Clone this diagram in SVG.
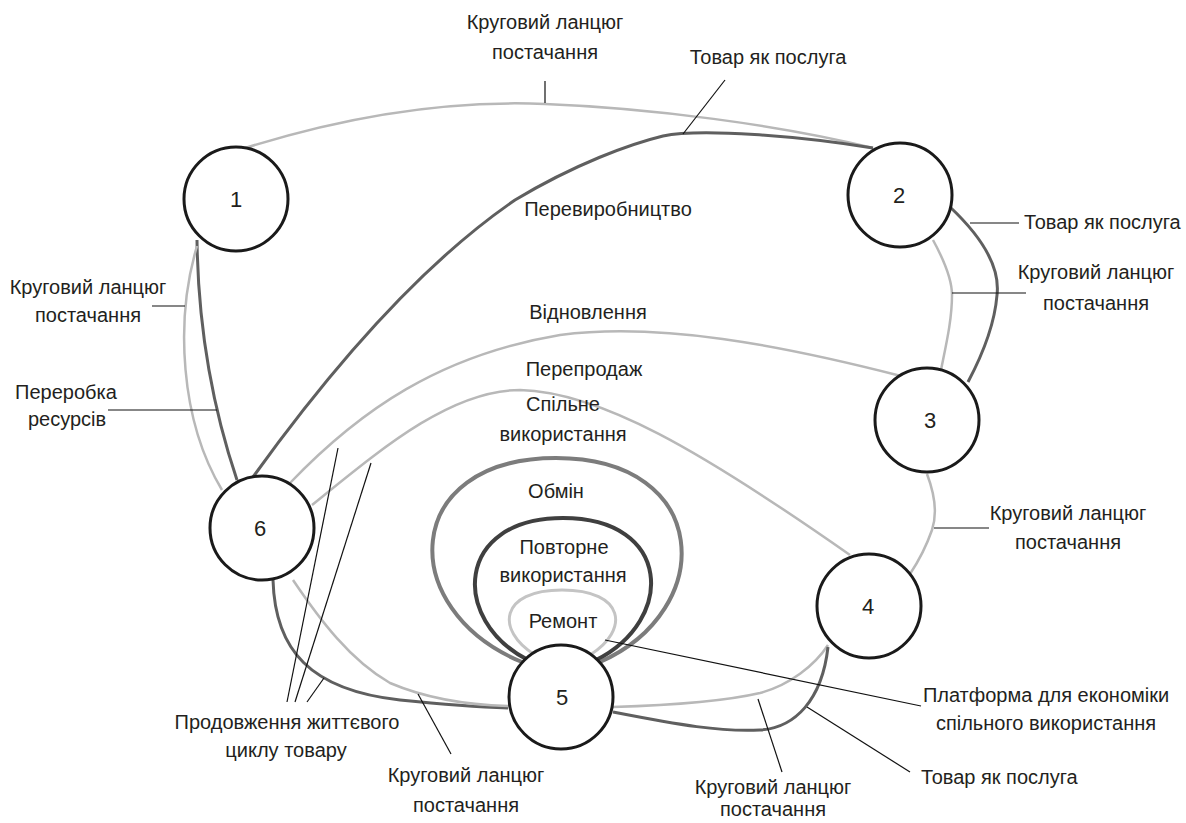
<svg xmlns="http://www.w3.org/2000/svg" width="1186" height="823" viewBox="0 0 1186 823">
<style>
text{font-family:"Liberation Sans",Arial,sans-serif;font-size:20px;fill:#231f20}
.m{text-anchor:middle}
.n{font-size:22px;text-anchor:middle}
.node circle{fill:#fff;stroke:#1a1a1a;stroke-width:3}
.dk{fill:none;stroke:#5f5f5f;stroke-width:3}
.lt{fill:none;stroke:#b8b8b8;stroke-width:2.5}
.ld{fill:none;stroke:#111;stroke-width:1.2}
</style>
<rect width="1186" height="823" fill="#fff"/>
<g id="connectors">
  <path class="lt" d="M245,148 C350,115 450,100 545,104 C650,108 780,125 873,148"/>
  <path class="dk" stroke-width="2.5" d="M253,477 C330,370 420,265 515,200 C575,164 630,144 663,136 C700,128 800,136 873,148"/>
  <path class="dk" d="M950,207 C985,240 1000,270 997,295 C995,320 985,350 968,382"/>
  <path class="lt" d="M933,240 C945,262 952,280 952,295 C952,320 946,345 941,370"/>
  <path class="lt" d="M290,483 C360,410 440,355 560,335 C660,322 780,345 901,376"/>
  <path class="lt" d="M312,505 C380,450 450,390 520,390 C600,392 700,450 850,555"/>
  <path class="lt" d="M927,474 C935,495 937,515 932,530 C925,550 918,562 910,574"/>
  <path class="dk" stroke="#505050" d="M197,240 C198,320 210,400 237,480"/>
  <path class="lt" stroke="#a8a8a8" d="M197,246 C175,320 180,420 222,490"/>
  <path class="dk" d="M273,580 C275,650 310,690 400,700 C450,705 480,707 508,708"/>
  <path class="lt" d="M293,580 C320,620 350,660 390,683 C430,700 470,705 508,706"/>
  <path class="lt" d="M613,707 C680,705 730,700 760,693 C790,685 815,665 828,645"/>
  <path class="dk" d="M613,712 C680,725 720,732 760,730 C795,728 822,700 828,647"/>
  <path fill="none" stroke="#7c7c7c" stroke-width="4" d="M522,662 C395,610 400,458 556,458 C712,458 718,610 600,662"/>
  <path fill="none" stroke="#3f3f3f" stroke-width="4" d="M528,660 C450,620 455,518 563,518 C672,518 676,620 596,660"/>
  <path fill="none" stroke="#c4c4c4" stroke-width="3" d="M535,655 C495,630 500,590 562,590 C625,590 630,630 590,655"/>
  <line class="ld" x1="545" y1="81" x2="545" y2="103"/>
  <line class="ld" x1="683" y1="134" x2="725" y2="80"/>
  <line class="ld" x1="970" y1="223" x2="1019" y2="223"/>
  <line class="ld" x1="952" y1="293" x2="1026" y2="293"/>
  <line class="ld" x1="934" y1="528" x2="989" y2="528"/>
  <line class="ld" x1="152" y1="306" x2="185" y2="306"/>
  <line class="ld" x1="108" y1="410" x2="217" y2="410"/>
  <line class="ld" x1="338" y1="448" x2="287" y2="702"/>
  <line class="ld" x1="371" y1="463" x2="295" y2="702"/>
  <line class="ld" x1="324" y1="678" x2="307" y2="702"/>
  <line class="ld" x1="418" y1="694" x2="451" y2="754"/>
  <line class="ld" x1="758" y1="699" x2="782" y2="772"/>
  <line class="ld" x1="807" y1="707" x2="910" y2="772"/>
  <line class="ld" x1="605" y1="640" x2="921" y2="706"/>
</g>
<g id="node1" class="node"><circle cx="236" cy="199" r="52"/><text class="n" x="236" y="207">1</text></g>
<g id="node2" class="node"><circle cx="900" cy="195" r="52"/><text class="n" x="899" y="203">2</text></g>
<g id="node3" class="node"><circle cx="927" cy="420" r="52"/><text class="n" x="930" y="428">3</text></g>
<g id="node4" class="node"><circle cx="869" cy="606" r="52"/><text class="n" x="868" y="614">4</text></g>
<g id="node5" class="node"><circle cx="561" cy="697" r="52"/><text class="n" x="562" y="705">5</text></g>
<g id="node6" class="node"><circle cx="262" cy="528" r="52"/><text class="n" x="260" y="536">6</text></g>
<g id="labels">
  <text class="m" x="545" y="29">Круговий ланцюг</text>
  <text class="m" x="545" y="59">постачання</text>
  <text class="m" x="768" y="64">Товар як послуга</text>
  <text class="m" x="608" y="216">Перевиробництво</text>
  <text x="1024" y="229">Товар як послуга</text>
  <text class="m" x="1096" y="279">Круговий ланцюг</text>
  <text class="m" x="1096" y="310">постачання</text>
  <text class="m" x="588" y="319">Відновлення</text>
  <text class="m" x="584" y="376">Перепродаж</text>
  <text class="m" x="563" y="411">Спільне</text>
  <text class="m" x="563" y="441">використання</text>
  <text class="m" x="556" y="498">Обмін</text>
  <text class="m" x="564" y="554">Повторне</text>
  <text class="m" x="563" y="582">використання</text>
  <text class="m" x="563" y="628">Ремонт</text>
  <text class="m" x="88" y="294">Круговий ланцюг</text>
  <text class="m" x="88" y="322">постачання</text>
  <text class="m" x="66" y="399">Переробка</text>
  <text class="m" x="67" y="426">ресурсів</text>
  <text class="m" x="1068" y="520">Круговий ланцюг</text>
  <text class="m" x="1068" y="549">постачання</text>
  <text class="m" x="1046" y="702">Платформа для економіки</text>
  <text class="m" x="1046" y="730">спільного використання</text>
  <text x="921" y="784">Товар як послуга</text>
  <text class="m" x="287" y="729">Продовження життєвого</text>
  <text class="m" x="286" y="757">циклу товару</text>
  <text class="m" x="466" y="782">Круговий ланцюг</text>
  <text class="m" x="466" y="812">постачання</text>
  <text class="m" x="773" y="794">Круговий ланцюг</text>
  <text class="m" x="773" y="816">постачання</text>
</g>
</svg>
